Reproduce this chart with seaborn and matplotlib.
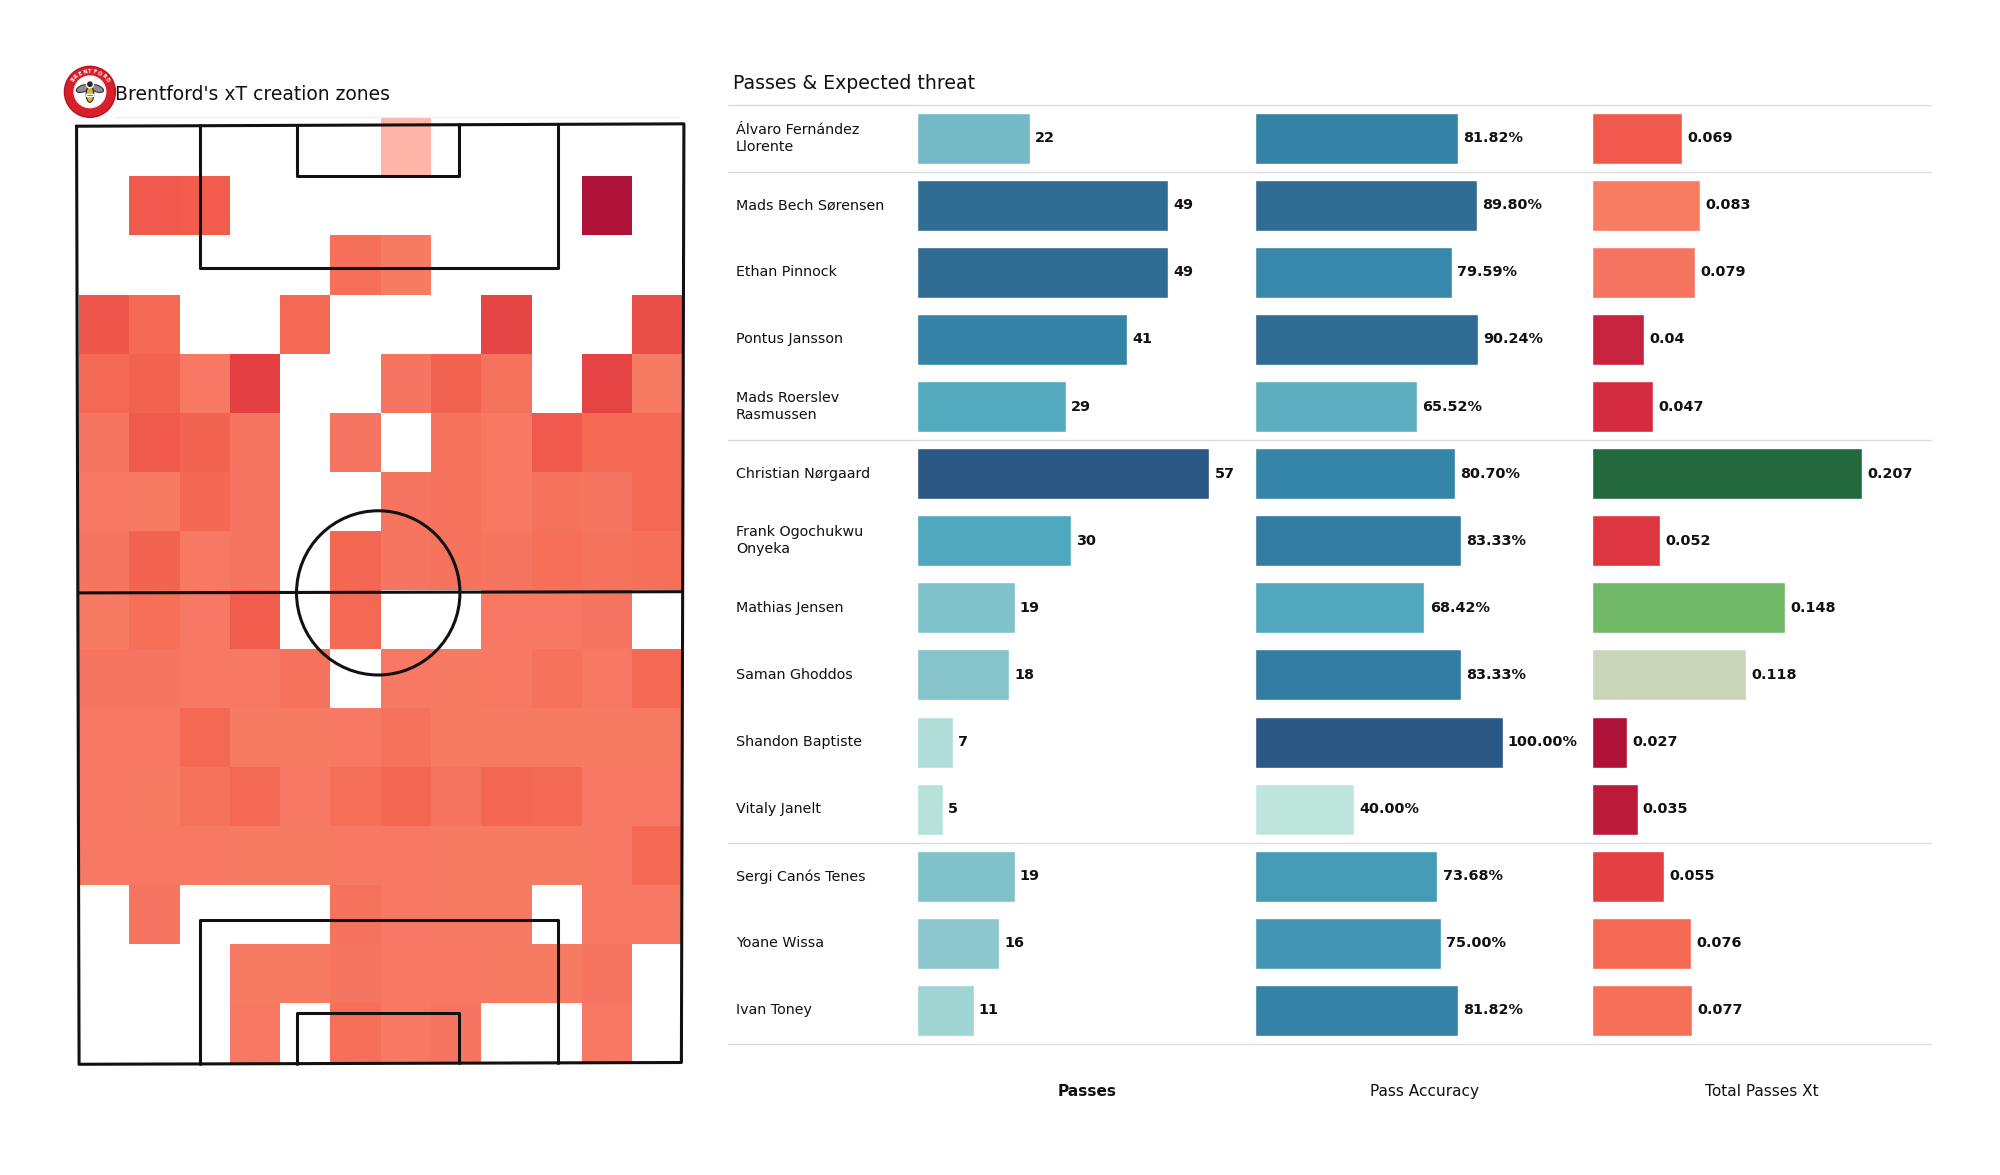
import matplotlib
matplotlib.use("Agg")
import matplotlib.pyplot as plt
import numpy as np
import pandas as pd
import seaborn as sns
from matplotlib.colors import LinearSegmentedColormap, Normalize
from matplotlib.lines import Line2D
from matplotlib.patches import Circle, Ellipse, Rectangle

players = ["Álvaro Fernández\nLlorente", "Mads Bech Sørensen", "Ethan Pinnock", "Pontus Jansson",
           "Mads Roerslev\nRasmussen", "Christian Nørgaard", "Frank Ogochukwu\nOnyeka", "Mathias Jensen",
           "Saman Ghoddos", "Shandon Baptiste", "Vitaly Janelt", "Sergi Canós Tenes", "Yoane Wissa", "Ivan Toney"]
passes = [22, 49, 49, 41, 29, 57, 30, 19, 18, 7, 5, 19, 16, 11]
accuracy = [81.82, 89.80, 79.59, 90.24, 65.52, 80.70, 83.33, 68.42, 83.33, 100.00, 40.00, 73.68, 75.00, 81.82]
total_xt = [0.069, 0.083, 0.079, 0.04, 0.047, 0.207, 0.052, 0.148, 0.118, 0.027, 0.035, 0.055, 0.076, 0.077]
group_breaks = [-0.5, 0.5, 4.5, 10.5, 13.5]

n = np.nan
zone_xt = [
    [n, n, n, n, n, n, .097, n, n, n, n, n],
    [n, .069, .070, n, n, n, n, n, n, n, .027, n],
    [n, n, n, n, n, .077, .081, n, n, n, n, n],
    [.067, .076, n, n, .076, n, n, n, .058, n, n, .063],
    [.076, .072, .080, .055, n, n, .079, .072, .078, n, .057, .081],
    [.079, .069, .073, .079, n, .079, n, .078, .080, .069, .076, .076],
    [.080, .081, .075, .079, n, n, .079, .078, .080, .078, .079, .076],
    [.079, .073, .080, .079, n, .075, .079, .078, .079, .077, .078, .077],
    [.081, .077, .080, .071, n, .076, n, n, .080, .080, .079, n],
    [.079, .079, .080, .080, .078, n, .080, .081, .080, .078, .080, .076],
    [.080, .080, .076, .081, .081, .080, .078, .081, .081, .081, .081, .081],
    [.080, .081, .078, .076, .080, .077, .075, .079, .075, .076, .080, .080],
    [.080, .080, .080, .081, .081, .080, .080, .081, .081, .081, .080, .076],
    [n, .079, n, n, n, .078, .080, .081, .081, n, .080, .080],
    [n, n, n, .081, .081, .079, .080, .080, .081, .081, .079, n],
    [n, n, n, .080, n, .077, .080, .079, n, n, .080, n],
]

W, H = 2000, 1175
R = 2000 / 1568  # positions below were measured on the 1568 wide preview

sns.set_theme(style="white")
plt.rcParams["font.family"] = ["DejaVu Sans"]

xt_cmap = LinearSegmentedColormap.from_list("xt", [
    (0.0, "#ad0f38"), (0.13, "#ae1238"), (0.17, "#bb1a3b"), (0.19, "#c6223f"), (0.227, "#d42b40"),
    (0.25, "#de3540"), (0.266, "#e44044"), (0.333, "#f05a4c"), (0.367, "#f46a55"), (0.386, "#f77a64"),
    (0.40, "#f87c62"), (0.47, "#ffb9ac"), (0.57, "#c8d4b9"), (0.715, "#72ba68"), (1.0, "#23693e")])
xt_norm = Normalize(0, 0.207)
pass_cmap = LinearSegmentedColormap.from_list("passes", [
    (0.0, "#bfe6dc"), (0.3, "#7fc1c9"), (0.5, "#50a8be"), (0.7, "#3585a8"), (0.85, "#306d95"), (1.0, "#2b5885")])


def panel(fig, left, top, right, bottom):
    ax = fig.add_axes([left * R / W, 1 - bottom * R / H, (right - left) * R / W, (bottom - top) * R / H])
    return ax


fig = plt.figure(figsize=(W / 100, H / 100), dpi=100, facecolor="white")

# pitch heat map
ax = panel(fig, 62, 92, 535, 833)
sns.heatmap(np.array(zone_xt), ax=ax, cmap=xt_cmap, vmin=0, vmax=0.207, cbar=False,
            xticklabels=False, yticklabels=False, linewidths=0)
pitch_style = dict(color="#111111", lw=2.2, clip_on=False, solid_capstyle="round")
ax.plot([-0.05, 12.03, 11.98, 0.0, -0.05], [0.15, 0.11, 16.0, 16.03, 0.15], **pitch_style)
ax.plot([0.0, 12.0], [8.05, 8.03], **pitch_style)
ax.plot([2.41, 2.41, 9.52, 9.52], [0.13, 2.55, 2.55, 0.12], **pitch_style)
ax.plot([4.34, 4.34, 7.56, 7.56], [0.13, 0.99, 0.99, 0.12], **pitch_style)
ax.plot([2.41, 2.41, 9.52, 9.52], [16.02, 13.58, 13.58, 16.0], **pitch_style)
ax.plot([4.34, 4.34, 7.56, 7.56], [16.02, 15.16, 15.16, 16.0], **pitch_style)
ax.add_patch(Ellipse((5.95, 8.05), 3.25, 2.78, fill=False, ec="#111111", lw=2.2, clip_on=False))
fig.add_artist(Line2D([90 * R / W, 532 * R / W], [1 - 92 * R / H] * 2, color="#eeeeee", lw=1))

# crest
crest = panel(fig, 46.5, 48, 94.5, 96)
crest.set_xlim(-1.2, 1.2)
crest.set_ylim(-1.2, 1.2)
crest.axis("off")
crest.add_patch(Circle((0, 0), 1.0, fc="#d8202c", ec="#b5121f", lw=1))
crest.add_patch(Circle((0, 0), 0.62, fc="white", ec="#f3f3f3", lw=1))
crest.add_patch(Ellipse((-0.27, 0.13), 0.55, 0.26, angle=20, fc="#8b8f94", ec="#333333", lw=0.8))
crest.add_patch(Ellipse((0.27, 0.13), 0.55, 0.26, angle=-20, fc="#8b8f94", ec="#333333", lw=0.8))
crest.add_patch(Ellipse((0, -0.1), 0.3, 0.62, fc="#e2b21f", ec="#2a2a2a", lw=0.8))
crest.add_patch(Circle((0, 0.3), 0.14, fc="#2a2a2a"))
crest.add_patch(Rectangle((-0.14, -0.16), 0.28, 0.08, fc="#2a2a2a"))
for letter, angle in zip("BRENTFORD", np.linspace(145, 35, 9)):
    crest.text(0.81 * np.cos(np.radians(angle)), 0.81 * np.sin(np.radians(angle)), letter, fontsize=3.6,
               fontweight="bold", color="white", ha="center", va="center", rotation=angle - 90)

fig.text(90 * R / W, 1 - 74 * R / H, "Brentford's xT creation zones", fontsize=13.5, va="center", color="#111111")
fig.text(575 * R / W, 1 - 65.7 * R / H, "Passes & Expected threat", fontsize=13.6, va="center", color="#111111")

# player names
names_ax = panel(fig, 570.5, 82, 719, 818.5)
names_ax.set_xlim(0, 148.5)
names_ax.set_ylim(13.5, -0.5)
names_ax.axis("off")
for i, name in enumerate(players):
    names_ax.text(6.5, i, name, fontsize=10.3, va="center", ha="left", color="#111111", linespacing=1.25)
for y in group_breaks:
    names_ax.axhline(y, color="#d8d8d8", lw=1, clip_on=False)

# bar columns
columns = [
    (passes, 719, 984, 65.9, [pass_cmap(Normalize(3, 57)(v)) for v in passes], "{:d}", "Passes", "bold", 852),
    (accuracy, 984, 1248, 136.1, [pass_cmap(Normalize(40, 98)(v)) for v in accuracy], "{:.2f}%", "Pass Accuracy", "normal", 1116.5),
    (total_xt, 1248, 1514, 0.2597, [xt_cmap(xt_norm(v)) for v in total_xt], "{}", "Total Passes Xt", "normal", 1381.5),
]
for values, left, right, xmax, colors, fmt, header, weight, header_x in columns:
    bar_ax = panel(fig, left, 82, right, 818.5)
    df = pd.DataFrame({"player": players, "value": values})
    sns.barplot(data=df, x="value", y="player", hue="player", palette=colors, legend=False, dodge=False,
                width=0.76, saturation=1, ax=bar_ax, orient="h")
    bar_ax.set_xlim(0, xmax)
    bar_ax.set_ylim(13.5, -0.5)
    bar_ax.axis("off")
    for i, v in enumerate(values):
        bar_ax.annotate(fmt.format(v), (v, i), xytext=(3.8, 0), textcoords="offset points", fontsize=10.4,
                        fontweight="bold", va="center", ha="left", color="#111111")
    for y in group_breaks:
        bar_ax.axhline(y, color="#dedede", lw=1, clip_on=False)
    fig.text(header_x * R / W, 1 - 855.8 * R / H, header, fontsize=11.1, fontweight=weight, ha="center",
             va="center", color="#111111")

fig.savefig("out.png", dpi=100)
